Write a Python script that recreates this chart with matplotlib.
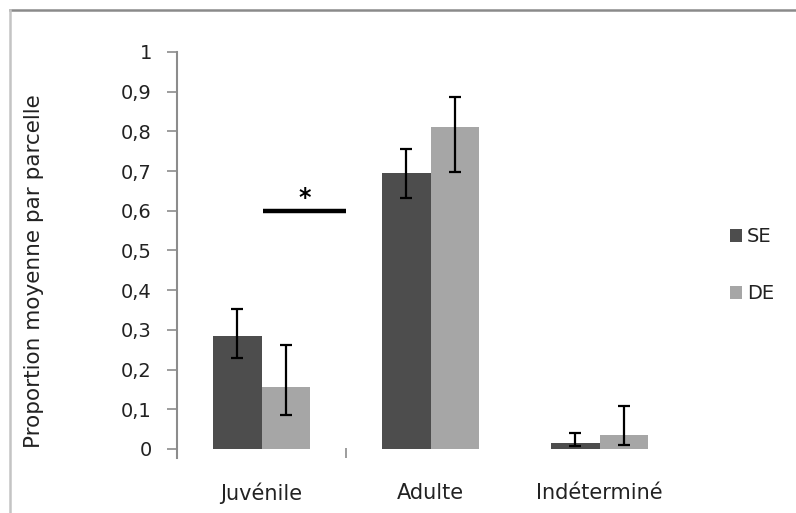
import matplotlib
matplotlib.use("Agg")
import matplotlib.pyplot as plt
from matplotlib.lines import Line2D
from matplotlib.patches import Patch
import numpy as np

plt.rcParams["font.family"] = ["DejaVu Sans"]

# Proportions per plot, by age class
categories = ["Juvénile", "Adulte", "Indéterminé"]
series = ["SE", "DE"]
se_mean = [0.285, 0.695, 0.015]
de_mean = [0.155, 0.810, 0.035]
# error bars (lower, upper)
se_err_low = [0.057, 0.063, 0.008]
se_err_up = [0.068, 0.061, 0.025]
de_err_low = [0.069, 0.112, 0.025]
de_err_up = [0.107, 0.077, 0.073]

ytick_vals = [0, 0.1, 0.2, 0.3, 0.4, 0.5, 0.6, 0.7, 0.8, 0.9, 1]
ytick_labels = ["0", "0,1", "0,2", "0,3", "0,4", "0,5", "0,6", "0,7", "0,8", "0,9", "1"]

SE_COLOR = "#4d4d4d"
DE_COLOR = "#a6a6a6"
TEXT = "#222222"

W, H = 796, 513
fig = plt.figure(figsize=(W / 100, H / 100), dpi=100)
ax = fig.add_axes([177 / W, 1 - 458 / H, (684 - 177) / W, (458 - 52) / H])

x = np.arange(len(categories))
bw = 0.287
err_kw = dict(ecolor="black", elinewidth=1.6, capsize=4, capthick=1.6)
ax.bar(x - bw / 2, se_mean, bw, color=SE_COLOR,
       yerr=[se_err_low, se_err_up], error_kw=err_kw, zorder=2)
ax.bar(x + bw / 2, de_mean, bw, color=DE_COLOR,
       yerr=[de_err_low, de_err_up], error_kw=err_kw, zorder=2)

# significance marker between SE and DE juveniles
ax.plot([0.01, 0.5], [0.6, 0.6], color="black", lw=3.2, solid_capstyle="butt")
ax.text(0.255, 0.602, "*", ha="center", va="bottom", fontsize=17,
        fontweight="bold", color="black")

ax.set_xlim(-0.5, 2.5)
ax.set_ylim(-0.0227, 1.0)
ax.set_yticks(ytick_vals)
ax.set_yticklabels(ytick_labels, fontsize=14, color=TEXT)
ax.set_xticks(x)
ax.set_xticklabels(categories, fontsize=15, color=TEXT)
ax.tick_params(axis="x", length=0, pad=18)
ax.tick_params(axis="y", length=7, width=1.2, color="#8c8c8c", pad=11)
ax.set_xticks([0.5], minor=True)
ax.tick_params(axis="x", which="minor", direction="in", length=7, width=1.2,
               color="#8c8c8c")

for s in ["top", "right", "bottom"]:
    ax.spines[s].set_visible(False)
ax.spines["left"].set_color("#8c8c8c")
ax.spines["left"].set_linewidth(1.5)

ax.set_ylabel("Proportion moyenne par parcelle", fontsize=15.5, color=TEXT)
ax.yaxis.set_label_coords(-0.262, 0.46)

handles = [Patch(facecolor=SE_COLOR), Patch(facecolor=DE_COLOR)]
fig.legend(handles, series, loc="center left", bbox_to_anchor=(712 / W, 1 - 265 / H),
           frameon=False, fontsize=14, handlelength=0.65, handleheight=0.65,
           handletextpad=0.25, labelspacing=1.95, labelcolor=TEXT)

# outer chart frame
fig.add_artist(Line2D([10 / W, 1], [1 - 10 / H, 1 - 10 / H], color="#8a8a8a", lw=1.8))
fig.add_artist(Line2D([10 / W, 10 / W], [0, 1 - 10 / H], color="#c4c4c4", lw=1.8))

fig.savefig("out.png", dpi=100)
